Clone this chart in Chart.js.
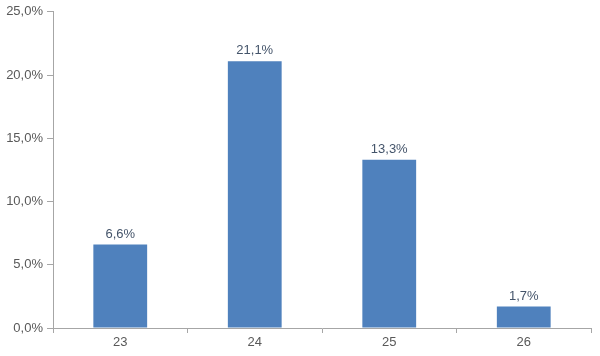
<!DOCTYPE html>
<html>
<head>
<meta charset="utf-8">
<script src="https://cdn.jsdelivr.net/npm/chart.js@4"></script>
<style>
  html, body { margin: 0; padding: 0; background: #fff; }
  #wrap { width: 600px; height: 356px; }
</style>
</head>
<body>
<div id="wrap"><canvas id="chart"></canvas></div>
<script>
const categories = ['23', '24', '25', '26'];
const shares = [6.6, 21.1, 13.3, 1.7];
const yTicks = [0, 5, 10, 15, 20, 25];

const fmt = v => v.toFixed(1).replace('.', ',') + '%';

// labels above each bar
const barLabels = {
    id: 'barLabels',
    afterDatasetsDraw(chart) {
        const ctx = chart.ctx;
        const meta = chart.getDatasetMeta(0);
        ctx.save();
        ctx.font = '13px "Liberation Sans", Arial, sans-serif';
        ctx.fillStyle = '#44546A';
        ctx.textAlign = 'center';
        ctx.textBaseline = 'bottom';
        meta.data.forEach((bar, i) => {
            ctx.fillText(fmt(shares[i]), bar.x, bar.y - 4);
        });
        ctx.restore();
    }
};

new Chart(document.getElementById('chart'), {
    type: 'bar',
    data: {
        labels: categories,
        datasets: [{
            data: shares,
            backgroundColor: '#4F81BD',
            barPercentage: 0.4,
            categoryPercentage: 1
        }]
    },
    options: {
        responsive: true,
        maintainAspectRatio: false,
        animation: false,
        layout: { padding: { top: 11, right: 9, left: 0, bottom: 0 } },
        plugins: { legend: { display: false }, tooltip: { enabled: false } },
        scales: {
            x: {
                grid: { display: true, drawOnChartArea: false, offset: true, tickLength: 5, color: '#A6A6A6' },
                border: { color: '#A6A6A6' },
                ticks: { color: '#595959', font: { size: 13, family: '"Liberation Sans", Arial, sans-serif' }, padding: 2 },
                afterFit(scale) { scale.height = 28; }
            },
            y: {
                min: 0,
                max: 25,
                grid: { display: true, drawOnChartArea: false, tickLength: 6, color: '#A6A6A6' },
                border: { color: '#A6A6A6' },
                afterBuildTicks(scale) { scale.ticks = yTicks.map(v => ({ value: v })); },
                ticks: {
                    color: '#595959',
                    font: { size: 13, family: '"Liberation Sans", Arial, sans-serif' },
                    padding: 4,
                    callback: v => fmt(v)
                },
                afterFit(scale) { scale.width = 53; }
            }
        }
    },
    plugins: [barLabels]
});
</script>
</body>
</html>
